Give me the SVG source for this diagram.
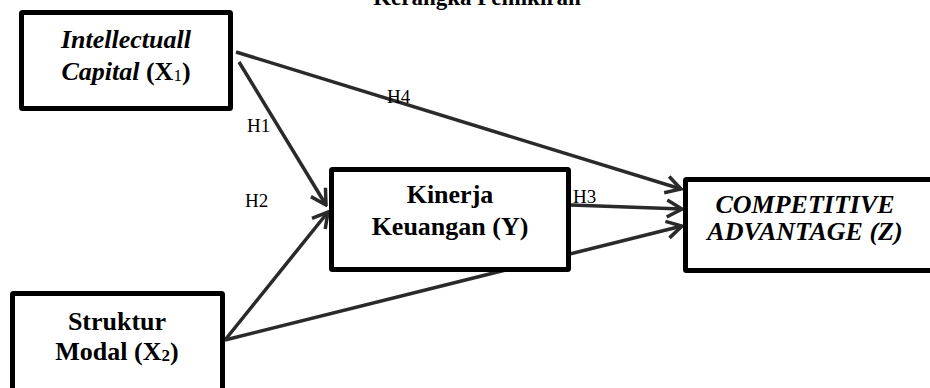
<svg xmlns="http://www.w3.org/2000/svg" width="930" height="388" viewBox="0 0 930 388">
<style>
.box{fill:#fff;stroke:#000;stroke-width:5;}
.t{font-family:"Liberation Serif","Times New Roman",serif;font-size:26px;font-weight:bold;text-anchor:middle;fill:#000;}
.it{font-style:italic;}
.lbl{font-family:"Liberation Serif","Times New Roman",serif;font-size:19px;fill:#000;}
.c{fill:none;stroke:#2a2a2a;stroke-width:3.5;}
</style>
<defs>
<marker id="arr" markerUnits="userSpaceOnUse" viewBox="-18 -11 20 22" refX="0" refY="0" markerWidth="20" markerHeight="22" orient="auto">
<path d="M-15,-8.5 L0,0 L-15,8.5" fill="none" stroke="#2a2a2a" stroke-width="3.5"/>
</marker>
</defs>
<rect width="930" height="388" fill="#fff"/>
<text class="t" x="477" y="5" style="font-size:23px">Kerangka Pemikiran</text>
<g id="connectors">
<path class="c" d="M236,52 L681,189" marker-end="url(#arr)"/>
<path class="c" d="M239,62 L326,205" marker-end="url(#arr)"/>
<path class="c" d="M225,340 L328,212" marker-end="url(#arr)"/>
<path class="c" d="M571,205 L682,209" marker-end="url(#arr)"/>
<path class="c" d="M225,340 L682,226" marker-end="url(#arr)"/>
<text class="lbl" x="387" y="103">H4</text>
<text class="lbl" x="247" y="132">H1</text>
<text class="lbl" x="245" y="207">H2</text>
<text class="lbl" x="573" y="203">H3</text>
</g>
<g id="x1">
<rect class="box" x="21.5" y="12.5" width="209" height="96" rx="1"/>
<text class="t it" x="126" y="48">Intellectuall</text>
<text class="t" x="126" y="80"><tspan class="it">Capital</tspan> (X<tspan style="font-size:17px;font-weight:normal" dy="1">1</tspan><tspan dy="-1">)</tspan></text>
</g>
<g id="y">
<rect class="box" x="331.5" y="169.5" width="237" height="100" rx="1"/>
<text class="t" x="450" y="203">Kinerja</text>
<text class="t" x="450" y="235">Keuangan (Y)</text>
</g>
<g id="z">
<rect class="box" x="685.5" y="179.5" width="260" height="91" rx="1"/>
<text class="t it" x="805" y="213">COMPETITIVE</text>
<text class="t it" x="805" y="240">ADVANTAGE (Z)</text>
</g>
<g id="x2">
<rect class="box" x="12.5" y="293.5" width="210" height="110" rx="1"/>
<text class="t" x="117" y="330">Struktur</text>
<text class="t" x="117" y="360">Modal (X<tspan style="font-size:17px" dy="1">2</tspan><tspan dy="-1">)</tspan></text>
</g>
</svg>
